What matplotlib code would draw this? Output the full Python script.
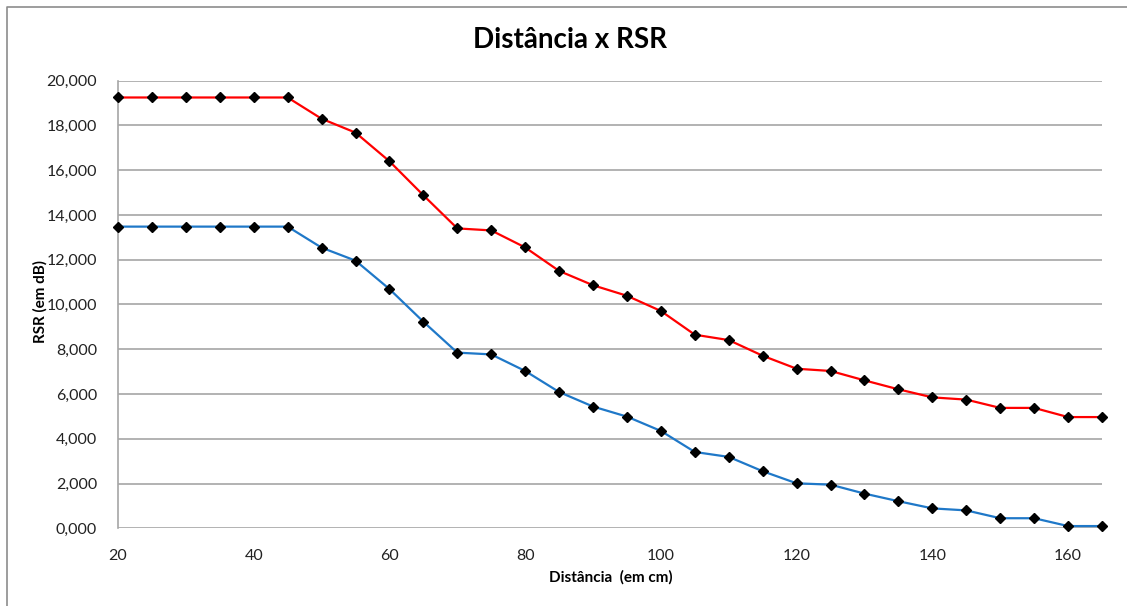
import numpy as np
import matplotlib
matplotlib.use('Agg')
import matplotlib.pyplot as plt
from matplotlib.lines import Line2D
from matplotlib.ticker import FuncFormatter

plt.rcParams['font.family'] = ['Lato', 'DejaVu Sans']

# Distance (cm)
distancia = np.arange(20, 170, 5)

# RSR values (dB)
rsr_vermelho = [19.25, 19.25, 19.25, 19.25, 19.25, 19.25, 18.30, 17.68, 16.40, 14.88,
                13.40, 13.31, 12.55, 11.50, 10.86, 10.39, 9.71, 8.65, 8.41, 7.71,
                7.13, 7.03, 6.61, 6.21, 5.85, 5.75, 5.38, 5.38, 4.97, 4.97]
rsr_azul = [13.48, 13.48, 13.48, 13.48, 13.48, 13.48, 12.54, 11.96, 10.69, 9.23,
            7.85, 7.77, 7.03, 6.09, 5.44, 4.99, 4.35, 3.41, 3.19, 2.55,
            2.01, 1.95, 1.55, 1.21, 0.89, 0.80, 0.45, 0.45, 0.10, 0.10]

W, H = 1127, 606
fig = plt.figure(figsize=(W / 100, H / 100), dpi=100)
ax = fig.add_axes([118 / W, 1 - 528.3 / H, 984 / W, 447.6 / H])

grid_col = '#a6a6a6'
ax.plot(distancia, rsr_vermelho, color='#ff0000', lw=1.6, marker='D', ms=5,
        mfc='black', mec='black', zorder=3, clip_on=False)
ax.plot(distancia, rsr_azul, color='#1f78c8', lw=1.6, marker='D', ms=5,
        mfc='black', mec='black', zorder=3, clip_on=False)

ax.set_xlim(20, 165)
ax.set_ylim(0, 20)
ax.set_xticks(np.arange(20, 161, 20))
ax.set_yticks(np.arange(0, 21, 2))
ax.yaxis.set_major_formatter(FuncFormatter(lambda v, p: f'{v:.3f}'.replace('.', ',')))
ax.tick_params(axis='both', length=0, labelsize=11.5, colors='#222222')
ax.tick_params(axis='y', pad=15)
ax.tick_params(axis='x', pad=15)
ax.grid(axis='y', color=grid_col, lw=1.2)
ax.set_axisbelow(True)
for s in ['top', 'right', 'bottom']:
    ax.spines[s].set_visible(False)
ax.spines['left'].set_color(grid_col)
ax.spines['left'].set_linewidth(1.2)

fig.text(570 / W, 1 - 40 / H, 'Distância x RSR', ha='center', va='center',
         fontsize=20, fontweight='bold')
fig.text(611 / W, 1 - 577 / H, 'Distância  (em cm)', ha='center', va='center',
         fontsize=11, fontweight='bold')
fig.text(40 / W, 1 - 302 / H, 'RSR (em dB)', ha='center', va='center',
         rotation=90, fontsize=11, fontweight='bold')

# chart border (only left and top visible in the crop)
fig.add_artist(Line2D([7 / W, 7 / W, 1], [0, 1 - 7 / H, 1 - 7 / H],
                      color='#8c8c8c', lw=1.2, transform=fig.transFigure))

fig.savefig('out.png', dpi=100)
